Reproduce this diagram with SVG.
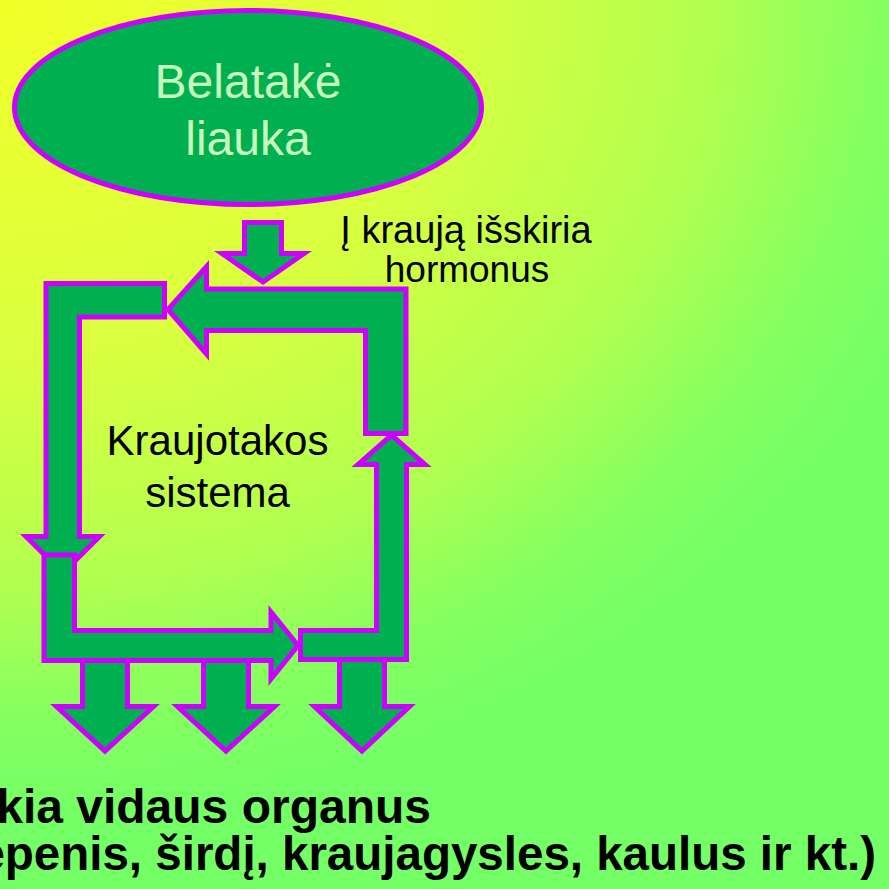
<svg xmlns="http://www.w3.org/2000/svg" width="889" height="889" viewBox="0 0 889 889">
<defs>
<radialGradient id="bg" gradientUnits="userSpaceOnUse" cx="0" cy="0" r="1000" gradientTransform="scale(1 0.82)">
<stop offset="0" stop-color="#f2ff28"/>
<stop offset="0.45" stop-color="#d8ff40"/>
<stop offset="0.72" stop-color="#b0ff50"/>
<stop offset="0.88" stop-color="#84ff60"/>
<stop offset="1" stop-color="#74ff66"/>
</radialGradient>
<style>
.sh{fill:#00b050;stroke:#cc00ff;stroke-width:5;stroke-linejoin:miter}
.lbl{font-family:"Liberation Sans",Arial,sans-serif;fill:#000;text-anchor:middle}
.pale{fill:#c8f8bc}
.bold{font-family:"Liberation Sans",Arial,sans-serif;font-weight:bold;fill:#000}
</style>
</defs>
<rect x="0" y="0" width="889" height="889" fill="url(#bg)"/>

<g id="gland">
<ellipse class="sh" cx="248" cy="107.5" rx="233.5" ry="97"/>
<text class="lbl pale" x="248" y="98" font-size="48">Belatakė</text>
<text class="lbl pale" x="248" y="155" font-size="48">liauka</text>
</g>

<g id="connectors">
<path class="sh" d="M82.5,650 H127.5 V706.5 H153.5 L105,751 L56.5,706.5 H82.5 Z"/>
<path class="sh" d="M203.5,650 H248.5 V706.5 H274.5 L226,751 L177.5,706.5 H203.5 Z"/>
<path class="sh" d="M339.5,650 H384.5 V706.5 H409.5 L362,751 L314.5,706.5 H339.5 Z"/>
<path class="sh" d="M244.5,222.5 H281.5 V253.5 H304 L263,282 L222,253.5 H244.5 Z"/>
<path class="sh" d="M46,283.5 H164.5 V317 H79.5 V536.5 H99.5 L62.75,573 L26,536.5 H46 Z"/>
<path class="sh" d="M44,555 H74.5 V630.5 H271 V612 L298,645.5 L271,679 V660.5 H44 Z"/>
<path class="sh" d="M300.5,630.5 H376.5 V464.5 H358 L391.5,435 L425,464.5 H406.5 V659.5 H300.5 Z"/>
<path class="sh" d="M406,433.5 H365.5 V330.5 H206.5 V354 L168,309.5 L206.5,266.5 V289 H406 Z"/>
</g>

<g id="hormone-label">
<text class="lbl" x="466" y="243" font-size="38">Į kraują išskiria</text>
<text class="lbl" x="467" y="282" font-size="37">hormonus</text>
</g>

<g id="circulation">
<text class="lbl" x="217.5" y="455" font-size="42">Kraujotakos</text>
<text class="lbl" x="217.5" y="507" font-size="42">sistema</text>
</g>

<g id="organs">
<text class="bold" x="431" y="823" font-size="48" text-anchor="end">kia vidaus organus</text>
<text class="bold" x="876" y="870" font-size="47.5" text-anchor="end">epenis, širdį, kraujagysles, kaulus ir kt.)</text>
</g>
</svg>
